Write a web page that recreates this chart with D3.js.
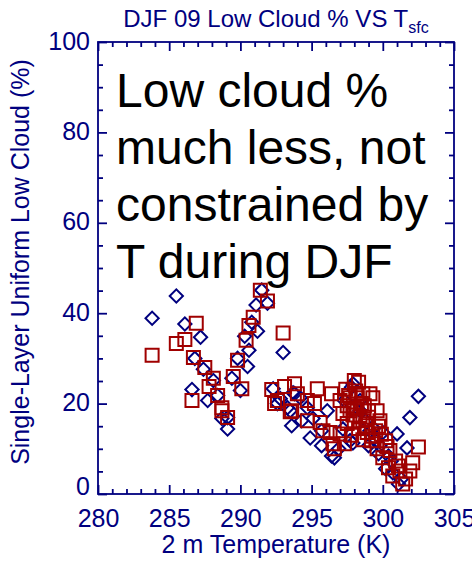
<!DOCTYPE html>
<html>
<head>
<meta charset="utf-8">
<script src="https://cdn.jsdelivr.net/npm/d3@7"></script>
<style>
  body { margin: 0; background: #fff; }
  svg { display: block; font-family: "Liberation Sans", Arial, sans-serif; }
</style>
</head>
<body>
<svg id="chart" width="472" height="562"></svg>
<script>
(function () {
    'use strict';

    // [temperature (K), low cloud (%)]
    const diamondPoints = [
        [283.8, 38.9], [285.5, 43.8], [286.1, 37.6], [287.2, 34.7], [286.8, 30.0],
        [287.4, 27.6], [288.1, 25.1], [286.6, 23.1], [287.7, 20.7], [288.4, 21.8],
        [288.7, 16.7], [289.1, 14.4], [289.8, 30.0], [289.4, 25.6], [290.0, 22.9],
        [290.3, 34.9], [291.5, 45.1], [291.9, 42.2], [291.1, 41.8], [290.8, 38.0],
        [291.2, 36.0], [290.6, 31.8], [290.5, 28.2], [293.0, 31.3], [289.1, 16.9],
        [292.3, 23.3], [292.6, 20.0], [293.5, 18.4], [293.6, 15.1], [294.3, 16.2],
        [294.9, 12.4], [295.7, 10.7], [296.4, 8.4], [296.6, 8.0], [295.7, 14.0],
        [295.1, 16.7], [296.1, 18.4], [294.7, 19.1], [294.2, 21.3], [293.7, 22.4],
        [297.9, 24.4], [297.7, 11.8], [297.2, 14.4], [296.9, 10.0], [297.8, 23.6],
        [301.9, 16.9], [302.5, 21.6], [301.0, 13.3], [301.7, 10.2], [297.9, 11.3],
        [299.3, 14.7], [299.7, 8.9], [300.2, 5.6], [300.7, 4.7], [301.3, 3.3],
        [301.1, 2.2], [292.8, 21.1], [293.3, 19.1], [293.8, 22.2], [298.4, 18.4],
        [298.8, 16.2], [299.1, 14.0], [298.4, 20.7], [297.3, 20.7], [299.5, 11.8],
        [299.8, 10.7], [300.4, 8.4], [300.6, 7.3], [300.0, 13.6], [299.0, 10.7]
    ];

    const squarePoints = [
        [283.8, 30.7], [285.5, 33.3], [286.1, 34.2], [286.9, 37.8], [286.7, 30.2],
        [286.6, 20.7], [287.5, 28.0], [288.1, 25.6], [287.8, 23.8], [288.4, 21.8],
        [288.7, 18.4], [289.1, 16.9], [289.8, 29.6], [289.5, 26.0], [290.1, 23.3],
        [290.4, 34.0], [291.4, 45.1], [291.9, 42.7], [290.9, 39.1], [290.6, 37.3],
        [293.0, 35.6], [288.7, 19.1], [292.2, 23.1], [293.1, 23.8], [293.8, 24.4],
        [292.4, 20.0], [294.0, 22.2], [293.6, 18.4], [294.7, 20.7], [295.4, 23.3],
        [295.2, 20.0], [295.6, 15.8], [294.7, 16.2], [295.8, 14.0], [296.5, 11.1],
        [296.6, 10.0], [296.3, 13.6], [297.0, 20.7], [297.2, 17.8], [297.7, 21.3],
        [298.0, 25.1], [298.0, 19.1], [297.5, 15.6], [298.3, 24.7], [302.5, 10.4],
        [302.1, 6.9], [301.6, 3.3], [301.4, 2.2], [300.7, 4.0], [300.4, 5.8],
        [300.0, 8.0], [299.6, 10.0], [299.2, 11.8], [298.9, 13.6], [298.6, 16.2],
        [299.0, 18.4], [299.3, 21.3], [299.6, 18.4], [299.8, 16.2], [296.4, 22.2],
        [297.7, 18.4], [298.5, 20.0], [297.0, 13.3], [299.1, 22.2], [297.6, 21.8],
        [298.2, 21.3], [298.6, 22.2], [298.4, 17.1], [298.8, 15.1], [298.0, 16.2],
        [299.5, 14.0], [300.2, 11.8], [300.5, 9.6], [300.9, 7.3], [301.2, 5.1],
        [301.1, 6.2], [301.9, 5.1], [297.3, 11.1], [292.6, 20.7], [293.5, 18.2],
        [297.5, 19.5], [297.9, 17.5], [298.2, 18.8], [298.7, 19.5], [299.0, 17.0],
        [298.3, 14.5], [297.8, 13.0], [298.6, 12.0], [299.3, 12.8], [299.7, 15.0],
        [299.9, 13.2], [300.3, 10.5], [298.1, 22.8], [297.4, 23.2]
    ];

    const xMajor = [280, 285, 290, 295, 300, 305];
    const yMajor = [0, 20, 40, 60, 80, 100];
    const noteLines = ["Low cloud %", "much less, not", "constrained by", "T during DJF"];

    const navy = "#00007f";
    const red = "#a00000";

    const svg = d3.select("#chart");
    const x = d3.scaleLinear().domain([280, 305]).range([98, 454]);
    const y = d3.scaleLinear().domain([0, 100]).range([494, 42]);

    const xMinor = d3.range(280, 306, 1).filter(v => !xMajor.includes(v));
    const yMinor = d3.range(0, 101, 5).filter(v => !yMajor.includes(v));

    const axes = svg.append("g").attr("class", "axes");

    function addAxis(gen, tx, ty, values, size, labels, pad) {
        const g = axes.append("g")
            .attr("transform", `translate(${tx},${ty})`)
            .call(gen.tickValues(values).tickSize(-size).tickPadding(pad || 3)
                .tickFormat(labels ? d3.format("d") : ""));
        g.select(".domain").remove();
        g.selectAll("line").attr("stroke", navy).attr("stroke-width", 1.8);
        g.selectAll("text").attr("fill", navy).style("font-size", "25px");
        return g;
    }

    addAxis(d3.axisBottom(x), 0, 494, xMajor, 9, true, 15);
    addAxis(d3.axisBottom(x), 0, 494, xMinor, 5, false);
    addAxis(d3.axisTop(x), 0, 42, xMajor, 9, false);
    addAxis(d3.axisTop(x), 0, 42, xMinor, 5, false);
    addAxis(d3.axisLeft(y), 98, 0, yMajor, 9, true, 8)
        .selectAll("text")
        .attr("dy", d => d === 0 ? "0.0em" : "0.28em");
    addAxis(d3.axisLeft(y), 98, 0, yMinor, 5, false);
    addAxis(d3.axisRight(y), 454, 0, yMajor, 9, false);
    addAxis(d3.axisRight(y), 454, 0, yMinor, 5, false);
    axes.selectAll("text").attr("font-family", null);

    axes.append("rect")
        .attr("x", x(280)).attr("y", y(100))
        .attr("width", x(305) - x(280)).attr("height", y(0) - y(100))
        .attr("fill", "none").attr("stroke", navy).attr("stroke-width", 1.8);

    // annotation
    svg.append("g")
        .selectAll("text")
        .data(noteLines)
        .join("text")
        .attr("x", 116)
        .attr("y", (d, i) => 107 + i * 57)
        .attr("fill", "#000")
        .style("font-size", "48px")
        .text(d => d);

    // markers
    const diamond = d3.symbol().type(d3.symbolSquare).size(88);
    const square = d3.symbol().type(d3.symbolSquare).size(169);

    svg.append("g")
        .selectAll("path")
        .data(diamondPoints)
        .join("path")
        .attr("d", diamond)
        .attr("transform", d => `translate(${x(d[0])},${y(d[1])}) rotate(45)`)
        .attr("fill", "none")
        .attr("stroke", navy)
        .attr("stroke-width", 2);

    svg.append("g")
        .selectAll("path")
        .data(squarePoints)
        .join("path")
        .attr("d", square)
        .attr("transform", d => `translate(${x(d[0])},${y(d[1])})`)
        .attr("fill", "none")
        .attr("stroke", red)
        .attr("stroke-width", 2);

    // title
    const title = svg.append("text")
        .attr("x", 276).attr("y", 27)
        .attr("text-anchor", "middle")
        .attr("fill", navy)
        .style("font-size", "24px");
    title.append("tspan").text("DJF 09 Low Cloud % VS T");
    title.append("tspan").attr("dy", 6).style("font-size", "16px").text("sfc");

    svg.append("text")
        .attr("x", 276).attr("y", 553)
        .attr("text-anchor", "middle")
        .attr("fill", navy)
        .style("font-size", "25px")
        .text("2 m Temperature (K)");

    svg.append("text")
        .attr("transform", "translate(29,262) rotate(-90)")
        .attr("text-anchor", "middle")
        .attr("fill", navy)
        .style("font-size", "25px")
        .text("Single-Layer Uniform Low Cloud (%)");
}());
</script>
</body>
</html>
